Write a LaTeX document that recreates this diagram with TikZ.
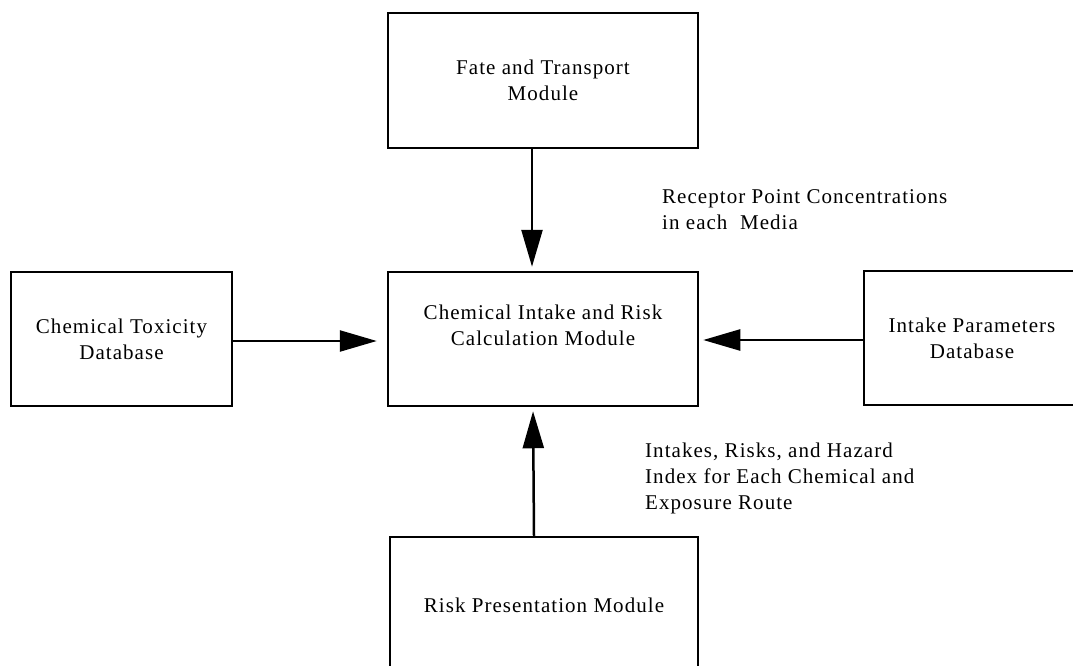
\documentclass[tikz,border=0pt]{standalone}
\usepackage{fontspec}
\setmainfont[LetterSpace=5]{Liberation Serif}
\usetikzlibrary{arrows.meta}
\begin{document}
\begin{tikzpicture}[x=1pt, y=-1pt,
  box/.style={draw, line width=2.5pt, align=center, inner sep=0pt, font=\fontsize{21}{26}\selectfont},
  arr/.style={line width=2.5pt, -{Triangle[length=37pt,width=21pt]}, shorten >=4pt},
  lbl/.style={align=left, anchor=north west, inner sep=0pt, font=\fontsize{21}{26}\selectfont}]
\useasboundingbox (0,0) rectangle (1073,666);
\node[box, minimum width=310pt, minimum height=135pt] (bx0) at (543,80.5){Fate and Transport\\Module};
\node[box, minimum width=310pt, minimum height=134pt,
  label={[name=bx1t, align=center, yshift=14pt, font=\fontsize{21}{26}\selectfont]center:Chemical Intake and Risk\\Calculation Module}] (bx1) at (543,339){};
\node[box, minimum width=221pt, minimum height=134pt] (bx2) at (121.5,339){Chemical Toxicity\\Database};
\node[box, minimum width=216pt, minimum height=134pt] (bx3) at (972,338){Intake Parameters\\Database};
\node[box, minimum width=308pt, minimum height=136pt] (bx4) at (544,605){Risk Presentation Module};
\draw[arr] ([xshift=-11pt]bx0.south) -- ([xshift=-11pt]bx1.north);
\draw[arr, shorten >=10pt] ([yshift=-2pt]bx2.east) -- ([yshift=-2pt]bx1.west);
\draw[arr] ([yshift=-2pt]bx3.west) -- ([yshift=-1pt]bx1.east);
\draw[arr] ([xshift=-10pt]bx4.north) -- ([xshift=-10pt]bx1.south);
\node[lbl] (lb0) at (662,189){Receptor Point Concentrations\\in each\ \ Media};
\node[lbl] (lb1) at (645,443){Intakes, Risks, and Hazard\\Index for Each Chemical and\\Exposure Route};
\end{tikzpicture}
\end{document}
